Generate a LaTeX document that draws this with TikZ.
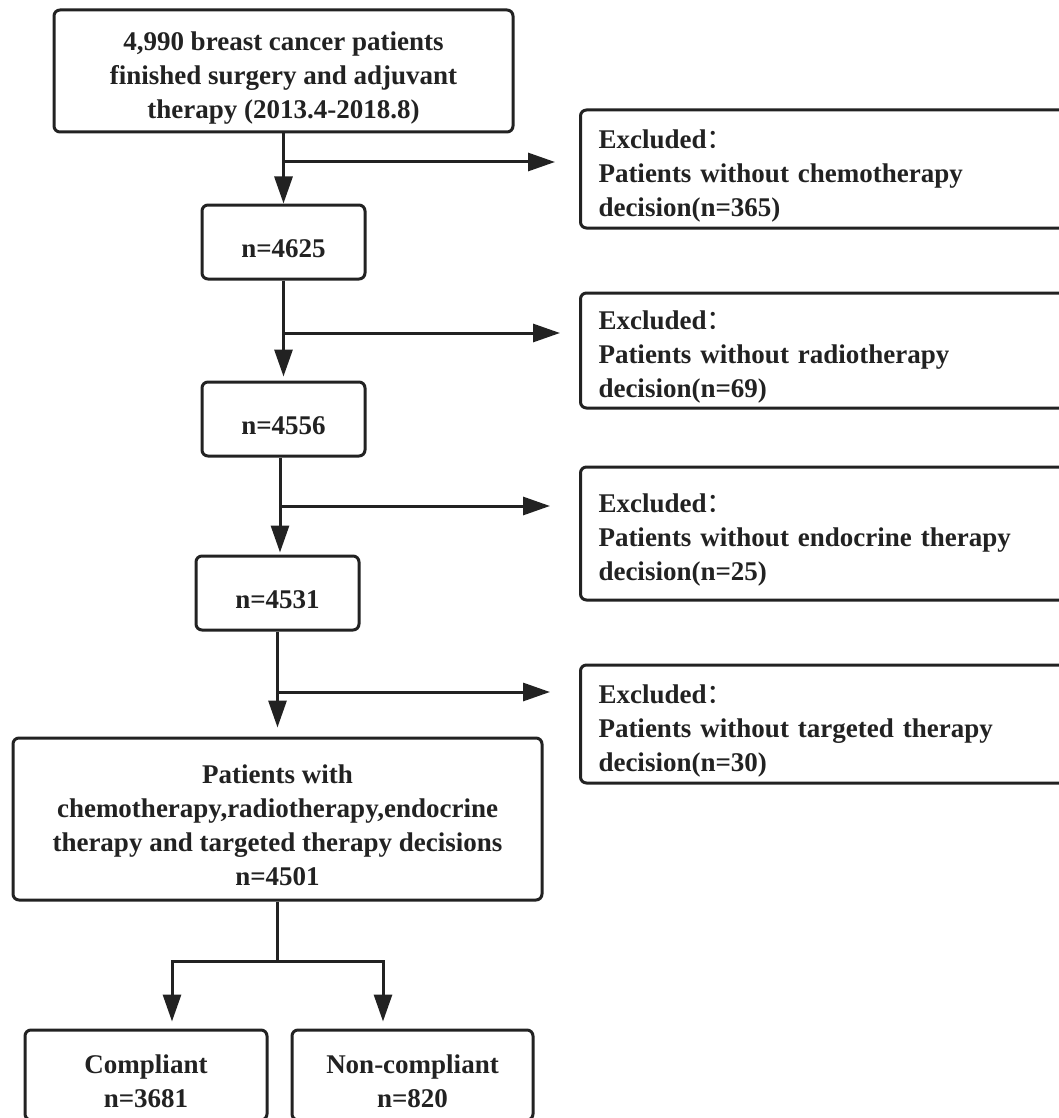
\documentclass[tikz,border=0pt]{standalone}
\usepackage{fontspec}
\setmainfont{Liberation Serif}
\newfontfamily\cjk{Noto Sans CJK SC}
\usetikzlibrary{arrows.meta,calc}
\definecolor{ink}{HTML}{222222}
\newcommand\tstrut{\rule{0pt}{32pt}}
\begin{document}
\begin{tikzpicture}[x=1pt,y=-1pt,
  box/.style={draw=ink, line width=3pt, rounded corners=6pt, inner sep=0pt,
    align=center, font=\fontsize{27}{34}\selectfont\bfseries, text=ink},
  exbox/.style={box, align=left, anchor=west, text width=480pt, inner xsep=18pt, minimum width=516pt},
  conn/.style={draw=ink, line width=3pt},
  arr/.style={conn, -{Triangle[length=27pt,width=18pt]}}]
\useasboundingbox (0,0) rectangle (1059,1118);
\clip (0,0) rectangle (1059,1118);
\fill[white] (0,0) rectangle (1059,1118);

\node[box, minimum width=459pt, minimum height=122pt] (top) at (283.5,71)
  {\tstrut 4,990 breast cancer patients\\finished surgery and adjuvant\\therapy (2013.4-2018.8)};
\node[box, minimum width=163pt, minimum height=74pt] (n1) at (283.5,242) {\tstrut n=4625};
\node[box, minimum width=163pt, minimum height=74pt] (n2) at (283.5,419) {\tstrut n=4556};
\node[box, minimum width=163pt, minimum height=74pt] (n3) at (277.5,593) {\tstrut n=4531};
\node[box, minimum width=529pt, minimum height=162pt] (main) at (277.5,819)
  {\tstrut Patients with\\chemotherapy,radiotherapy,endocrine\\therapy and targeted therapy decisions\\n=4501};
\node[box, minimum width=242pt, minimum height=90pt] (comp) at (146,1075) {\tstrut Compliant\\n=3681};
\node[box, minimum width=241pt, minimum height=90pt] (noncomp) at (412.5,1075) {\tstrut Non-compliant\\n=820};

\node[exbox, minimum height=118pt] (ex1) at (579,169)
  {\tstrut Excluded{\cjk\mdseries ：}\\Patients without chemotherapy\\decision(n=365)};
\node[exbox, minimum height=115pt] (ex2) at (579,350.5)
  {\tstrut Excluded{\cjk\mdseries ：}\\Patients without radiotherapy\\decision(n=69)};
\node[exbox, minimum height=133pt] (ex3) at (579,533.5)
  {\tstrut Excluded{\cjk\mdseries ：}\\Patients without endocrine therapy\\decision(n=25)};
\node[exbox, minimum height=118pt] (ex4) at (579,724)
  {\tstrut Excluded{\cjk\mdseries ：}\\Patients without targeted therapy\\decision(n=30)};

\coordinate (b1) at (283.5,162);
\coordinate (b2) at (283.5,333);
\coordinate (b3) at (280,506);
\coordinate (b4) at (277.5,692);
\coordinate (s) at (277.5,961);
\coordinate (l) at (172,961);
\coordinate (r) at (383,961);

\draw[arr] (top.south) -- (n1.north);
\draw[arr, shorten >=24pt] (b1) -- (b1 -| ex1.west);
\draw[arr, shorten >=4pt] (n1.south) -- (n2.north);
\draw[arr, shorten >=19pt] (b2) -- (b2 -| ex2.west);
\draw[arr, shorten >=2pt] (n2.south -| b3) -- (n3.north -| b3);
\draw[arr, shorten >=29pt] (b3) -- (b3 -| ex3.west);
\draw[arr, shorten >=9pt] (n3.south) -- (main.north);
\draw[arr, shorten >=29pt] (b4) -- (b4 -| ex4.west);
\draw[conn] (main.south) -- (s);
\draw[arr, shorten >=7pt] (s) -| (l |- comp.north);
\draw[arr, shorten >=7pt] (s) -| (r |- noncomp.north);
\end{tikzpicture}
\end{document}
